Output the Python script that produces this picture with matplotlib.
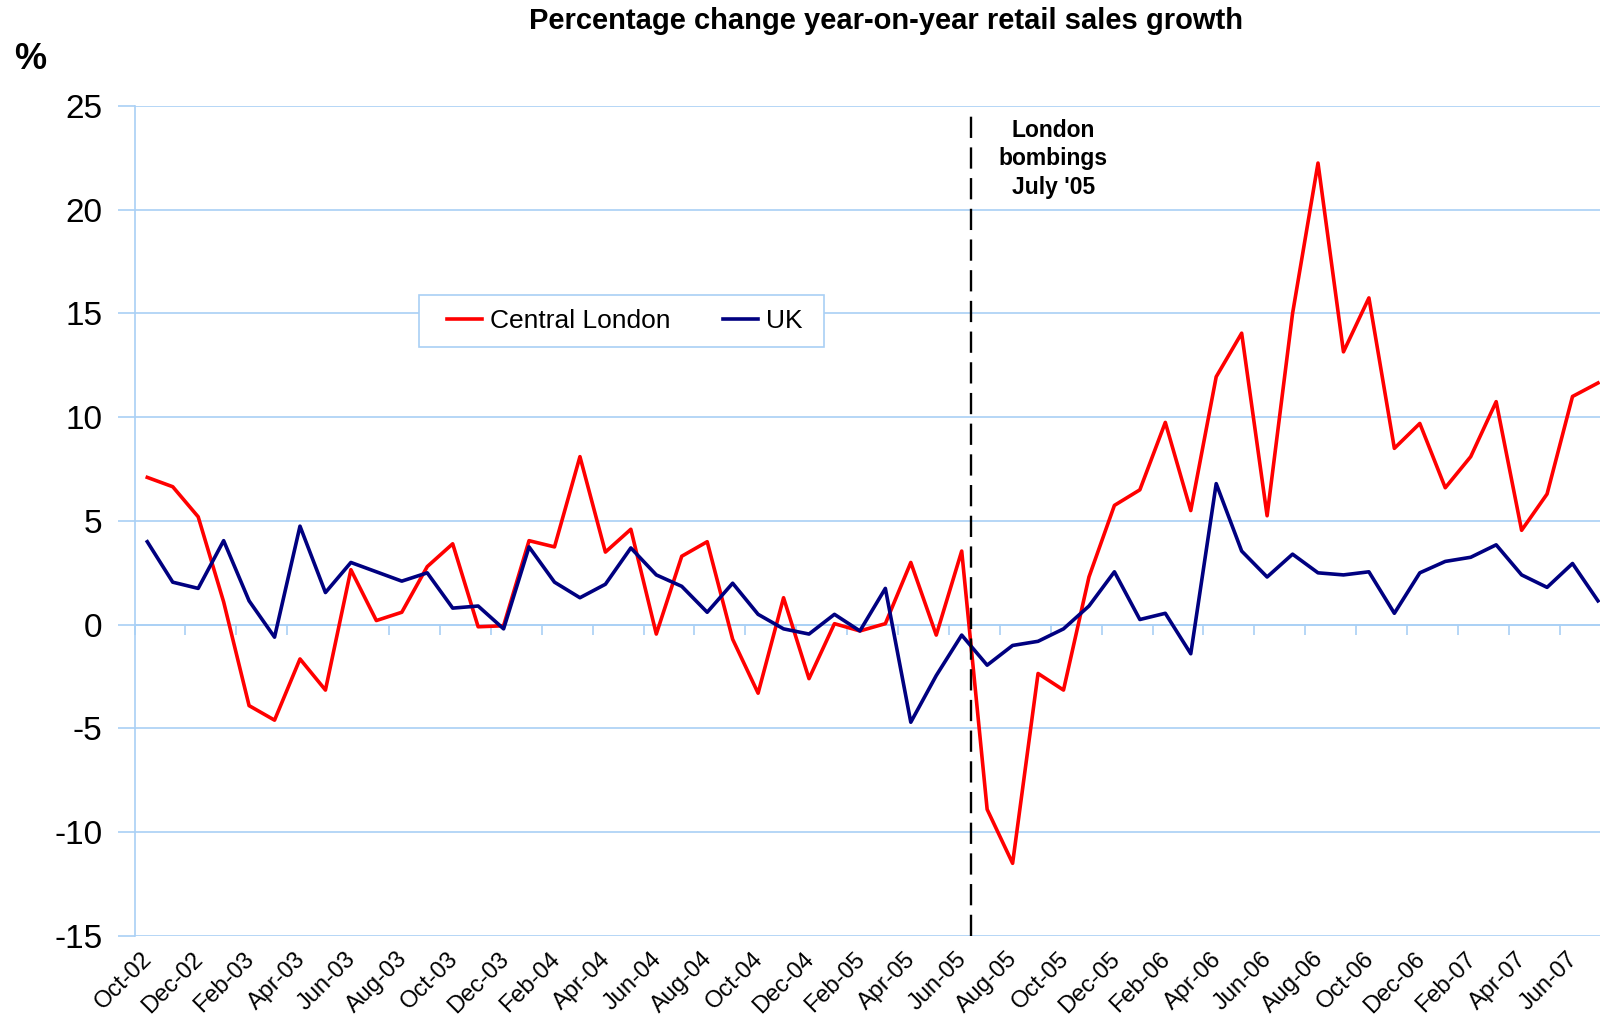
import matplotlib
matplotlib.use("Agg")
import matplotlib.pyplot as plt
from matplotlib.patches import Rectangle
import numpy as np

plt.rcParams['font.family'] = ['Liberation Sans', 'DejaVu Sans']
plt.rcParams['axes.unicode_minus'] = False

# monthly series, Oct-02 .. Jul-07
months = ['Oct-02', 'Nov-02', 'Dec-02', 'Jan-03', 'Feb-03', 'Mar-03', 'Apr-03', 'May-03', 'Jun-03',
          'Jul-03', 'Aug-03', 'Sep-03', 'Oct-03', 'Nov-03', 'Dec-03', 'Jan-04', 'Feb-04', 'Mar-04',
          'Apr-04', 'May-04', 'Jun-04', 'Jul-04', 'Aug-04', 'Sep-04', 'Oct-04', 'Nov-04', 'Dec-04',
          'Jan-05', 'Feb-05', 'Mar-05', 'Apr-05', 'May-05', 'Jun-05', 'Jul-05', 'Aug-05', 'Sep-05',
          'Oct-05', 'Nov-05', 'Dec-05', 'Jan-06', 'Feb-06', 'Mar-06', 'Apr-06', 'May-06', 'Jun-06',
          'Jul-06', 'Aug-06', 'Sep-06', 'Oct-06', 'Nov-06', 'Dec-06', 'Jan-07', 'Feb-07', 'Mar-07',
          'Apr-07', 'May-07', 'Jun-07', 'Jul-07']

central_london = [7.1, 6.65, 5.2, 1.1, -3.9, -4.6, -1.65, -3.15, 2.65, 0.2, 0.6, 2.8, 3.9, -0.1,
                  -0.05, 4.05, 3.75, 8.1, 3.5, 4.6, -0.45, 3.3, 4.0, -0.7, -3.3, 1.3, -2.6, 0.05,
                  -0.3, 0.05, 3.0, -0.5, 3.55, -8.9, -11.5, -2.35, -3.15, 2.3, 5.75, 6.5, 9.75,
                  5.5, 11.95, 14.05, 5.25, 15.0, 22.25, 13.15, 15.75, 8.5, 9.7, 6.6, 8.1, 10.75,
                  4.55, 6.3, 11.0, 11.65]

uk = [4.0, 2.05, 1.75, 4.05, 1.15, -0.6, 4.75, 1.55, 3.0, 2.55, 2.1, 2.5, 0.8, 0.9, -0.2, 3.75,
      2.05, 1.3, 1.95, 3.7, 2.4, 1.85, 0.6, 2.0, 0.5, -0.2, -0.45, 0.5, -0.3, 1.75, -4.7, -2.45,
      -0.5, -1.95, -1.0, -0.8, -0.2, 0.9, 2.55, 0.25, 0.55, -1.4, 6.8, 3.55, 2.3, 3.4, 2.5,
      2.4, 2.55, 0.55, 2.5, 3.05, 3.25, 3.85, 2.4, 1.8, 2.95, 1.15]

label_every = 2
event_label = "London\nbombings\nJuly '05"

grid_blue = '#A9D0F5'
x = np.arange(len(months))

fig = plt.figure(figsize=(16, 10.18), dpi=100)
ax = fig.add_axes([0.0841, 0.0806, 0.9159, 0.8153])

ax.plot(x, central_london, color='#FF0000', lw=2.6, label='Central London', zorder=3)
ax.plot(x, uk, color='#000080', lw=2.6, label='UK', zorder=3)

ax.set_xlim(-0.5, 57.08)
ax.set_ylim(-15, 25)
ax.set_yticks(np.arange(-15, 26, 5))
ax.yaxis.grid(True, color=grid_blue, lw=1.2)
ax.set_axisbelow(True)

for s in ['top', 'right']:
    ax.spines[s].set_visible(False)
ax.spines['left'].set_color(grid_blue)
ax.spines['left'].set_linewidth(1.2)
ax.spines['bottom'].set_position(('data', 0))
ax.spines['bottom'].set_color(grid_blue)
ax.spines['bottom'].set_linewidth(1.2)

# tick marks on the zero line, between every second category
ax.set_xticks(np.arange(-0.5, 57.5, 2))
ax.tick_params(axis='x', direction='out', length=7, width=1.2, color=grid_blue, labelbottom=False)
ax.tick_params(axis='y', direction='out', length=12, width=1.2, color=grid_blue,
               labelsize=24, pad=11)

sec = ax.secondary_xaxis('bottom')
sec.set_xticks(x[::label_every])
sec.set_xticklabels(months[::label_every], rotation=45, ha='right', va='center_baseline',
                    rotation_mode='anchor', fontsize=17)
sec.tick_params(length=0, pad=13)
sec.spines['bottom'].set_visible(False)

ax.vlines(32.38, -15, 24.6, colors='black', linestyles=(0, (9, 4)), lw=1.7, zorder=4)
ax.text(35.6, 22.45, event_label, ha='center', va='center', fontsize=16.5, fontweight='bold',
        linespacing=1.32)

# legend box (Excel style, wider left padding than matplotlib's)
ax.add_patch(Rectangle((419.4 / 1600, 1 - 346.9 / 1018), 405 / 1600, 52 / 1018,
                       transform=fig.transFigure, facecolor='white', edgecolor=grid_blue,
                       lw=1.2, zorder=5, clip_on=False))
leg = ax.legend(loc='center left', bbox_to_anchor=(447 / 1600, 1 - 320.9 / 1018),
                bbox_transform=fig.transFigure, ncol=2, fontsize=19, frameon=False,
                handlelength=1.32, handletextpad=0.31, columnspacing=2.0,
                borderpad=0, borderaxespad=0)
leg.set_zorder(6)

fig.text(0.554, 0.979, 'Percentage change year-on-year retail sales growth', ha='center',
         va='center', fontsize=21, fontweight='bold')
fig.text(0.019, 0.942, '%', ha='center', va='center', fontsize=26, fontweight='bold')

fig.savefig('out.png', dpi=100)
